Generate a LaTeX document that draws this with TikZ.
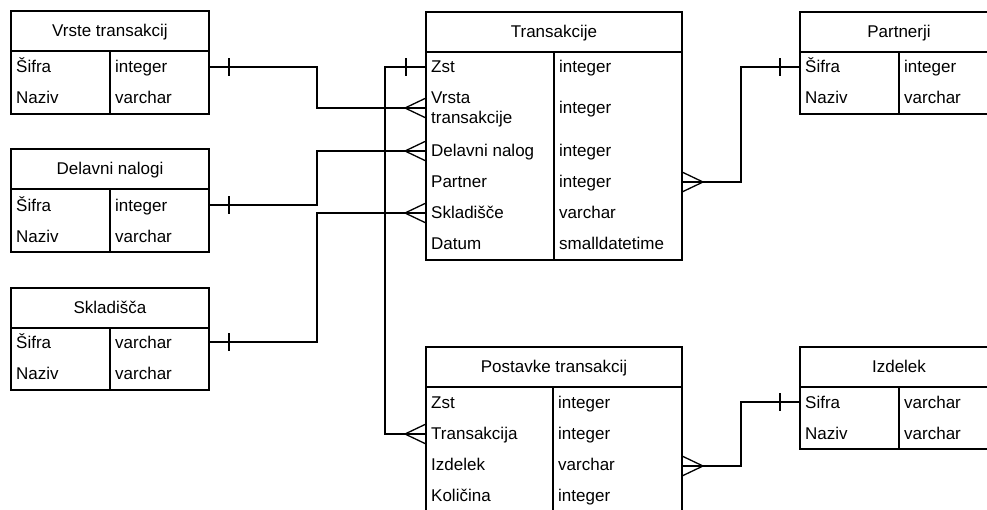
\documentclass[tikz,border=0pt]{standalone}
\usepackage{fontspec}
\setmainfont{Liberation Sans}
\usetikzlibrary{calc}

\tikzset{
  erbox/.style={draw, line width=1.5pt, inner sep=0pt, outer sep=0pt, anchor=north west},
  erline/.style={line width=1.5pt},
  ertitle/.style={inner sep=0pt, anchor=mid, yshift=-2pt},
  erfield/.style={inner sep=0pt, anchor=mid west, yshift=-4pt},
  link/.style={line width=1.3pt},
}

% #1 name, #2 x, #3 y, #4 width, #5 height, #6 column divider offset, #7 title
\newcommand\ertable[7]{%
  \node[erbox, minimum width=#4pt, minimum height=#5pt] (#1) at (#2,#3) {};
  \node[ertitle] (#1-title) at ($(#1.north)+(0,21)$) {#7};
  \draw[erline] ($(#1.north west)+(0,40)$) -- ($(#1.north east)+(0,40)$);
  \draw[erline] ($(#1.north west)+(#6,40)$) -- ($(#1.south west)+(#6,0)$);
}
% #1 name, #2 x, #3 y, #4 text
\newcommand\erfield[4]{\node[erfield] (#1) at (#2,#3) {#4};}
% crow's foot at a box edge; #2 = +1 opens to the right, -1 to the left
\newcommand\crowfoot[2]{\draw[link] (#1) ++(0,-10) -- ++(#2*21,10) -- ++(-#2*21,10);}
% single bar 20 units away from the edge
\newcommand\onebar[2]{\draw[link] (#1) ++(#2*20,-9) -- ++(0,18);}

\begin{document}
\begin{tikzpicture}[x=1pt, y=-1pt, font=\fontsize{17pt}{20pt}\selectfont]
\useasboundingbox (0,0) rectangle (987,509);
\clip (0,0) rectangle (987,509);

% Vrste transakcij
\ertable{vt}{11}{11}{198}{103}{99}{Vrste transakcij}
\erfield{vt-n1}{16}{66}{Šifra}
\erfield{vt-t1}{115}{66}{integer}
\erfield{vt-n2}{16}{97}{Naziv}
\erfield{vt-t2}{115}{97}{varchar}

% Delavni nalogi
\ertable{dn}{11}{149}{198}{103}{99}{Delavni nalogi}
\erfield{dn-n1}{16}{205}{Šifra}
\erfield{dn-t1}{115}{205}{integer}
\erfield{dn-n2}{16}{236}{Naziv}
\erfield{dn-t2}{115}{236}{varchar}

% Skladišča
\ertable{sk}{11}{288}{198}{102}{99}{Skladišča}
\erfield{sk-n1}{16}{342}{Šifra}
\erfield{sk-t1}{115}{342}{varchar}
\erfield{sk-n2}{16}{373}{Naziv}
\erfield{sk-t2}{115}{373}{varchar}

% Transakcije
\ertable{tr}{426}{12}{256}{248}{128}{Transakcije}
\erfield{tr-n1}{431}{66}{Zst}
\erfield{tr-t1}{559}{66}{integer}
\node[inner sep=0pt, anchor=west, align=left, yshift=-2.5pt] (tr-n2) at (431,107) {Vrsta\\transakcije};
\erfield{tr-t2}{559}{107}{integer}
\erfield{tr-n3}{431}{150}{Delavni nalog}
\erfield{tr-t3}{559}{150}{integer}
\erfield{tr-n4}{431}{181}{Partner}
\erfield{tr-t4}{559}{181}{integer}
\erfield{tr-n5}{431}{212}{Skladišče}
\erfield{tr-t5}{559}{212}{varchar}
\erfield{tr-n6}{431}{243}{Datum}
\erfield{tr-t6}{559}{243}{smalldatetime}

% Partnerji
\ertable{pa}{800}{12}{198}{102}{99}{Partnerji}
\erfield{pa-n1}{805}{66}{Šifra}
\erfield{pa-t1}{904}{66}{integer}
\erfield{pa-n2}{805}{97}{Naziv}
\erfield{pa-t2}{904}{97}{varchar}

% Postavke transakcij
\ertable{pt}{426}{347}{256}{190}{127}{Postavke transakcij}
\erfield{pt-n1}{431}{402}{Zst}
\erfield{pt-t1}{558}{402}{integer}
\erfield{pt-n2}{431}{433}{Transakcija}
\erfield{pt-t2}{558}{433}{integer}
\erfield{pt-n3}{431}{464}{Izdelek}
\erfield{pt-t3}{558}{464}{varchar}
\erfield{pt-n4}{431}{495}{Količina}
\erfield{pt-t4}{558}{495}{integer}

% Izdelek
\ertable{iz}{800}{347}{198}{102}{99}{Izdelek}
\erfield{iz-n1}{805}{402}{Sifra}
\erfield{iz-t1}{904}{402}{varchar}
\erfield{iz-n2}{805}{433}{Naziv}
\erfield{iz-t2}{904}{433}{varchar}

% Relationships (end points measured down from each table's top edge)
\draw[link] ($(vt.north east)+(0,56)$) coordinate (r1a) -- ++(108,0) |- ($(tr.north west)+(0,96)$) coordinate (r1b);
\onebar{r1a}{1} \crowfoot{r1b}{-1}

\draw[link] ($(dn.north east)+(0,56)$) coordinate (r2a) -- ++(108,0) |- ($(tr.north west)+(0,139)$) coordinate (r2b);
\onebar{r2a}{1} \crowfoot{r2b}{-1}

\draw[link] ($(sk.north east)+(0,54)$) coordinate (r3a) -- ++(108,0) |- ($(tr.north west)+(0,201)$) coordinate (r3b);
\onebar{r3a}{1} \crowfoot{r3b}{-1}

\draw[link] ($(tr.north west)+(0,55)$) coordinate (r4a) -- ++(-41,0) |- ($(pt.north west)+(0,87)$) coordinate (r4b);
\onebar{r4a}{-1} \crowfoot{r4b}{-1}

\draw[link] ($(tr.north east)+(0,170)$) coordinate (r5a) -- ++(59,0) |- ($(pa.north west)+(0,55)$) coordinate (r5b);
\crowfoot{r5a}{1} \onebar{r5b}{-1}

\draw[link] ($(pt.north east)+(0,119)$) coordinate (r6a) -- ++(59,0) |- ($(iz.north west)+(0,55)$) coordinate (r6b);
\crowfoot{r6a}{1} \onebar{r6b}{-1}
\end{tikzpicture}
\end{document}
